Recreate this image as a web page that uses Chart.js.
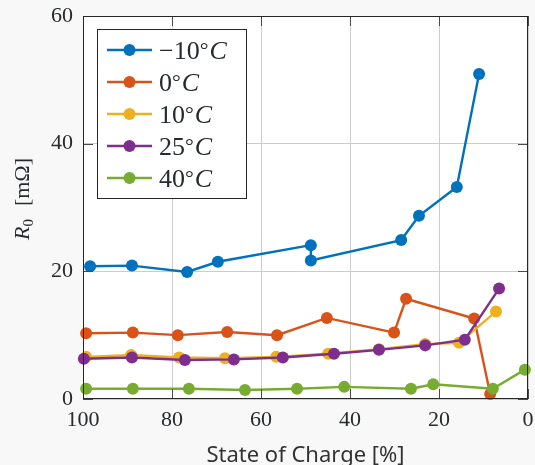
<!DOCTYPE html>
<html>
<head>
<meta charset="utf-8">
<script src="https://cdn.jsdelivr.net/npm/chart.js@4.4.1/dist/chart.umd.min.js"></script>
<style>
  html, body { margin: 0; padding: 0; background: #f8f8f8; }
  canvas { display: block; }
</style>
</head>
<body>
<canvas id="chart" width="535" height="465"></canvas>
<script>
// temperatures for the legend and MATLAB default line colours
const temps = ['\u221210', '0', '10', '25', '40']
const colors = ['#0072BD', '#D95319', '#EDB120', '#7E2F8E', '#77AC30']

// state of charge [%] and R0 [mOhm]
const socM10 = [98.4, 89.0, 76.6, 69.7, 48.8, 48.8, 28.5, 24.5, 16.0, 11.0]
const rM10 = [20.8, 20.9, 19.9, 21.5, 24.1, 21.7, 24.9, 28.7, 33.2, 50.9]

const soc0 = [99.3, 88.8, 78.7, 67.6, 56.4, 45.2, 30.1, 27.4, 12.1, 8.5]
const r0 = [10.3, 10.4, 10.0, 10.5, 10.0, 12.7, 10.4, 15.7, 12.6, 0.8]

const soc10 = [99.3, 89.2, 78.4, 68.1, 56.6, 44.9, 33.5, 23.1, 15.5, 7.2]
const r10 = [6.6, 6.9, 6.5, 6.4, 6.6, 7.1, 7.8, 8.6, 8.8, 13.7]

const soc25 = [99.8, 89.0, 77.1, 66.1, 55.1, 43.6, 33.5, 23.1, 14.2, 6.5]
const r25 = [6.3, 6.5, 6.1, 6.2, 6.5, 7.1, 7.7, 8.4, 9.3, 17.3]

const soc40 = [99.3, 88.8, 76.2, 63.6, 51.9, 41.3, 26.3, 21.3, 7.9, 0.7]
const r40 = [1.6, 1.6, 1.6, 1.4, 1.6, 1.9, 1.6, 2.3, 1.6, 4.6]

const xSeries = [socM10, soc0, soc10, soc25, soc40]
const ySeries = [rM10, r0, r10, r25, r40]

const textColor = '#262b2e'
const serif = '"Liberation Serif", "DejaVu Serif", serif'

const datasets = xSeries.map((xs, i) => ({
  label: temps[i] + '°C',
  data: xs.map((x, j) => ({ x: x, y: ySeries[i][j] })),
  showLine: true,
  borderColor: colors[i],
  backgroundColor: colors[i],
  borderWidth: 2.4,
  pointRadius: 6,
  pointBorderWidth: 0,
  pointHoverRadius: 6,
  clip: false,
  order: 4 - i // later series on top, like MATLAB
}))

// no overhang padding from tick labels, the box is placed by hand
function noOverhang(scale) {
  scale.paddingTop = 0
  scale.paddingBottom = 0
  scale.paddingLeft = 0
  scale.paddingRight = 0
}

// white axes box, frame, inward ticks, legend and y title
const figurePlugin = {
  id: 'figure',
  beforeDraw(chart) {
    const { ctx, chartArea: a } = chart
    ctx.save()
    ctx.fillStyle = '#f8f8f8'
    ctx.fillRect(0, 0, chart.width, chart.height)
    ctx.fillStyle = '#ffffff'
    ctx.fillRect(a.left, a.top, a.right - a.left, a.bottom - a.top)
    ctx.restore()
  },
  afterDraw(chart) {
    const { ctx, chartArea: a } = chart
    const xs = chart.scales.x
    const ys = chart.scales.y
    ctx.save()

    // inward tick marks
    ctx.strokeStyle = '#4a4a4a'
    ctx.lineWidth = 1
    ctx.beginPath()
    xs.ticks.forEach(t => {
      const px = Math.round(xs.getPixelForValue(t.value)) + 0.5
      ctx.moveTo(px, a.bottom); ctx.lineTo(px, a.bottom - 10)
      ctx.moveTo(px, a.top); ctx.lineTo(px, a.top + 10)
    })
    ys.ticks.forEach(t => {
      const py = Math.round(ys.getPixelForValue(t.value)) + 0.5
      ctx.moveTo(a.left, py); ctx.lineTo(a.left + 10, py)
      ctx.moveTo(a.right, py); ctx.lineTo(a.right - 10, py)
    })
    ctx.stroke()

    // frame
    ctx.strokeStyle = '#262626'
    ctx.strokeRect(a.left + 0.5, a.top + 0.5, a.right - a.left - 1, a.bottom - a.top - 1)

    // legend box
    const lx = 97, ly = 29, lw = 150, lh = 170
    ctx.fillStyle = '#ffffff'
    ctx.fillRect(lx, ly, lw, lh)
    ctx.strokeStyle = '#262626'
    ctx.strokeRect(lx + 0.5, ly + 0.5, lw - 1, lh - 1)

    ctx.textBaseline = 'alphabetic'
    temps.forEach((t, i) => {
      const cy = 50 + i * 32
      ctx.strokeStyle = colors[i]
      ctx.lineWidth = 2.4
      ctx.beginPath()
      ctx.moveTo(107, cy); ctx.lineTo(152, cy)
      ctx.stroke()
      ctx.fillStyle = colors[i]
      ctx.beginPath()
      ctx.arc(129.5, cy, 6, 0, Math.PI * 2)
      ctx.fill()

      ctx.fillStyle = textColor
      let x = 159
      const base = cy + 9
      ctx.font = '26px ' + serif
      ctx.fillText(t, x, base)
      x += ctx.measureText(t).width
      ctx.font = '22px ' + serif
      ctx.fillText('°', x, base - 2)
      x += ctx.measureText('°').width + 1
      ctx.font = 'italic 26px ' + serif
      ctx.fillText('C', x, base)
    })

    // y axis title: R_0  [mΩ]
    ctx.translate(22, 196)
    ctx.rotate(-Math.PI / 2)
    ctx.fillStyle = textColor
    ctx.font = 'italic 22px ' + serif
    const wR = ctx.measureText('R').width
    ctx.font = '15px ' + serif
    const wSub = ctx.measureText('0').width
    ctx.font = '22px ' + serif
    const wUnit = ctx.measureText('[mΩ]').width
    const gap = 13
    let x = -(wR + wSub + gap + wUnit) / 2 - 3
    ctx.font = 'italic 22px ' + serif
    ctx.fillText('R', x, 7)
    x += wR
    ctx.font = '15px ' + serif
    ctx.fillText('0', x, 11)
    x += wSub + gap
    ctx.font = '22px ' + serif
    ctx.fillText('[mΩ]', x, 7)

    ctx.restore()
  }
}

new Chart(document.getElementById('chart'), {
  type: 'scatter',
  data: { datasets: datasets },
  options: {
    responsive: false,
    animation: false,
    devicePixelRatio: 1,
    events: [],
    layout: { padding: { top: 16, right: 7, left: 0, bottom: 0 } },
    plugins: {
      legend: { display: false },
      tooltip: { enabled: false }
    },
    scales: {
      x: {
        type: 'linear',
        reverse: true,
        min: 0,
        max: 100,
        afterFit(scale) { scale.height = 66; noOverhang(scale) },
        border: { display: false },
        grid: { color: '#cccccc', lineWidth: 1, drawTicks: false },
        ticks: {
          stepSize: 20,
          padding: 8,
          color: textColor,
          font: { family: serif, size: 22 }
        },
        title: {
          display: true,
          text: 'State of Charge [%]',
          color: '#333333',
          font: { family: '"Noto Sans", "Open Sans", sans-serif', size: 22 },
          padding: { top: 0, bottom: -4 }
        }
      },
      y: {
        min: 0,
        max: 60,
        afterFit(scale) { scale.width = 83; noOverhang(scale) },
        border: { display: false },
        grid: { color: '#cccccc', lineWidth: 1, drawTicks: false },
        ticks: {
          stepSize: 20,
          padding: 10,
          color: textColor,
          font: { family: serif, size: 22 }
        }
      }
    }
  },
  plugins: [figurePlugin]
})
</script>
</body>
</html>
